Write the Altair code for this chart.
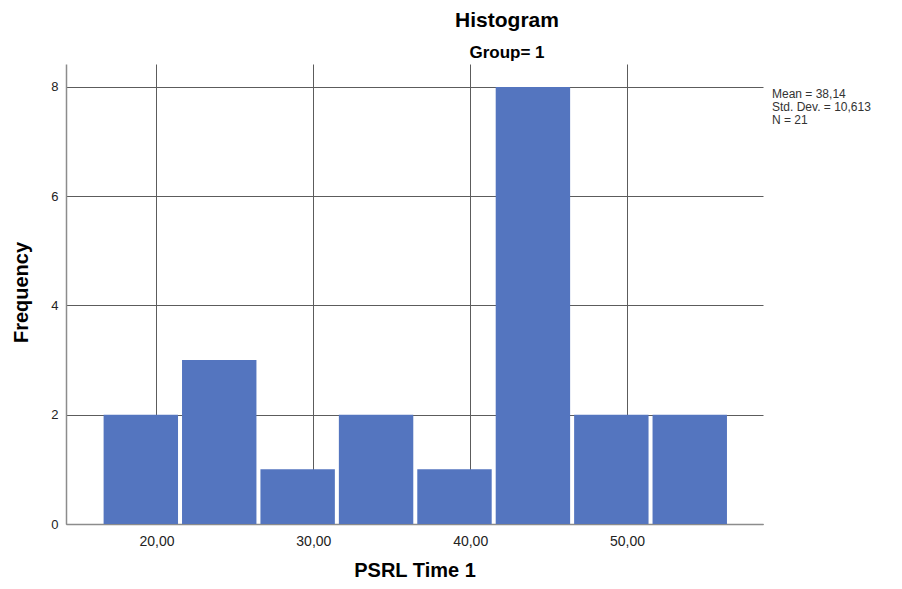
import altair as alt
import pandas as pd

# Histogram data
bin_start = [16.5, 21.5, 26.5, 31.5, 36.5, 41.5, 46.5, 51.5]
bin_end = [21.5, 26.5, 31.5, 36.5, 41.5, 46.5, 51.5, 56.5]
counts = [2, 3, 1, 2, 1, 8, 2, 2]
x_ticks = [20, 30, 40, 50]
y_ticks = [0, 2, 4, 6, 8]
stats_lines = ["Mean = 38,14", "Std. Dev. = 10,613", "N = 21"]
title_text = "Histogram"
subtitle_text = "Group= 1"

bars_df = pd.DataFrame({"start": bin_start, "end": bin_end, "count": counts})
stats_df = pd.DataFrame({"label": ["\n".join(stats_lines)]})
title_df = pd.DataFrame({"t": [title_text]})
sub_df = pd.DataFrame({"t": [subtitle_text]})

FONT = "Liberation Sans"
W, H = 697, 460

x_scale = alt.Scale(domain=[14.23, 58.67], nice=False, zero=False)
y_scale = alt.Scale(domain=[0, 8.42], nice=False)

bars = alt.Chart(bars_df).mark_rect(
    color="#5475BF", xOffset=2, x2Offset=-2
).encode(
    x=alt.X("start:Q", scale=x_scale,
            axis=alt.Axis(values=x_ticks, grid=True, gridColor="#5c5c5c", gridWidth=1,
                          domainColor="#8c8c8c", domainWidth=1.5, ticks=False, tickSize=0,
                          labelPadding=10, labelFontSize=14, labelFont=FONT, labelColor="#222222",
                          labelExpr="replace(format(datum.value, '.2f'), '.', ',')",
                          title="PSRL Time 1", titleFont=FONT, titleFontSize=20,
                          titleFontWeight="bold", titleColor="#000000",
                          titleX=348.5, titleY=52, titleBaseline="alphabetic", titleAlign="center")),
    x2="end:Q",
    y=alt.Y("count:Q", scale=y_scale,
            axis=alt.Axis(values=y_ticks, grid=True, gridColor="#5c5c5c", gridWidth=1,
                          domainColor="#8c8c8c", domainWidth=1.5, ticks=False, tickSize=0,
                          labelPadding=8, labelFontSize=13, labelFont=FONT, labelColor="#222222",
                          title="Frequency", titleFont=FONT, titleFontSize=20,
                          titleFontWeight="bold", titleColor="#000000",
                          titleX=-39, titleY=228, titleAngle=-90,
                          titleBaseline="alphabetic", titleAlign="center")),
)

stats = alt.Chart(stats_df).mark_text(
    align="left", baseline="alphabetic", font=FONT, fontSize=12, lineHeight=13,
    color="#333333", lineBreak="\n"
).encode(x=alt.value(706), y=alt.value(34), text="label:N")

title = alt.Chart(title_df).mark_text(
    align="center", baseline="alphabetic", font=FONT, fontSize=21, fontWeight="bold", color="#000000"
).encode(x=alt.value(441), y=alt.value(-37), text="t:N")

subtitle = alt.Chart(sub_df).mark_text(
    align="center", baseline="alphabetic", font=FONT, fontSize=17, fontWeight="bold", color="#000000"
).encode(x=alt.value(441), y=alt.value(-6), text="t:N")

chart = alt.layer(bars, stats, title, subtitle).properties(
    width=W, height=H,
    autosize=alt.AutoSizeParams(type="none"),
    padding={"left": 58, "top": 56, "right": 131, "bottom": 57},
    background="white",
).configure_view(stroke=None)

chart.save("out.html", embed_options={"renderer": "svg", "actions": False})
